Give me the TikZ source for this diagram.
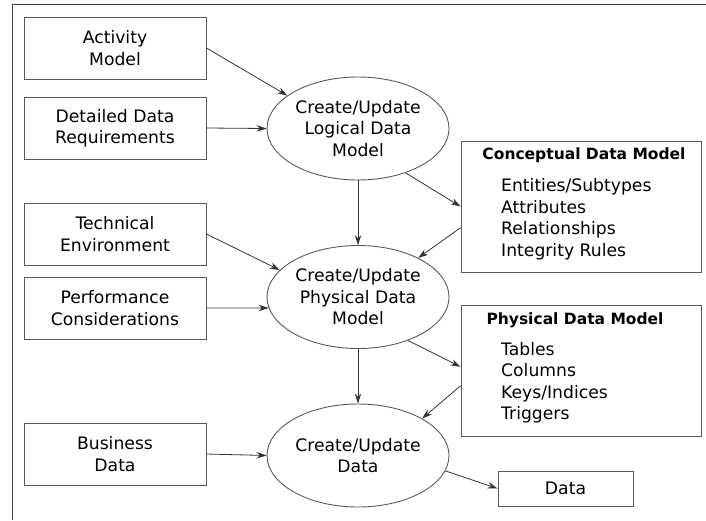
\documentclass[tikz,border=0pt]{standalone}
\usepackage{fontspec}
\setmainfont{DejaVu Sans}
\usepackage{tikz}
\usetikzlibrary{positioning}
\usetikzlibrary{shapes.geometric}
\usetikzlibrary{arrows.meta}
\newcommand\txt{\fontsize{17.2}{21.5}\selectfont}
\begin{document}
\begin{tikzpicture}[x=1pt, y=-1pt,
    inbox/.style={draw=black!65, line width=0.9pt, minimum width=182pt, minimum height=62pt, align=center, font=\txt},
    task/.style={ellipse, draw=black!65, line width=0.9pt, minimum width=182pt, minimum height=103pt, inner sep=0pt, align=center, font=\txt},
    modelbox/.style={draw=black!65, line width=0.9pt, minimum width=240pt, minimum height=131pt},
    flow/.style={-{Stealth[length=10pt, width=6.5pt]}, draw=black!80, line width=0.8pt}]
    \useasboundingbox (0,0) rectangle (706,520);
    \draw[black!75, line width=0.9pt] (12.5,520) -- (12.5,4.5) -- (706,4.5);
    % inputs on the left
    \node[inbox] (am)  at (115,48)  {Activity\\Model};
    \node[inbox] (ddr) at (115,128) {Detailed Data\\Requirements};
    \node[inbox] (te)  at (115,234) {Technical\\Environment};
    \node[inbox] (pc)  at (115,308) {Performance\\Considerations};
    \node[inbox] (bd)  at (115,454) {Business\\Data};
    % the three steps
    \node[task] (cld) at (358,128.5) {Create/Update\\Logical Data\\Model};
    \node[task] (cpd) at (358,297)   {Create/Update\\Physical Data\\Model};
    \node[task] (cud) at (358,455.5) {Create/Update\\Data};
    % models on the right
    \node[modelbox] (cdm) at (581,206.5) {};
    \node[font=\bfseries\fontsize{15.5}{19}\selectfont] at (584,155) {Conceptual Data Model};
    \node[font=\txt, align=left, anchor=west, inner sep=0pt] at (501,219) {Entities/Subtypes\\Attributes\\Relationships\\Integrity Rules};
    \node[modelbox] (pdm) at (581,371) {};
    \node[font=\bfseries\fontsize{15.5}{19}\selectfont] at (575,320) {Physical Data Model};
    \node[font=\txt, align=left, anchor=west, inner sep=0pt] at (501,382.5) {Tables\\Columns\\Keys/Indices\\Triggers};
    \node[draw=black!65, line width=0.9pt, minimum width=135pt, minimum height=35pt, font=\txt] (data) at (565.5,488.5) {Data};
    % arrows
    \draw[flow] (am.east) -- (cld.155);
    \draw[flow] (ddr.east) -- (cld.west);
    \draw[flow] (cld.south) -- (cpd.north);
    \draw[flow] (cld.-43) -- (cdm.west);
    \draw[flow] (cdm.190.5) -- (cpd.33);
    \draw[flow] (te.east) -- (cpd.161);
    \draw[flow] (pc.east) -- (cpd.187);
    \draw[flow] (cpd.south) -- (cud.north);
    \draw[flow] (cpd.-41) -- (pdm.178);
    \draw[flow] (pdm.187.5) -- (cud.30);
    \draw[flow] (bd.east) -- (cud.west);
    \draw[flow] (cud.-10) -- (data.west);
\end{tikzpicture}
\end{document}
